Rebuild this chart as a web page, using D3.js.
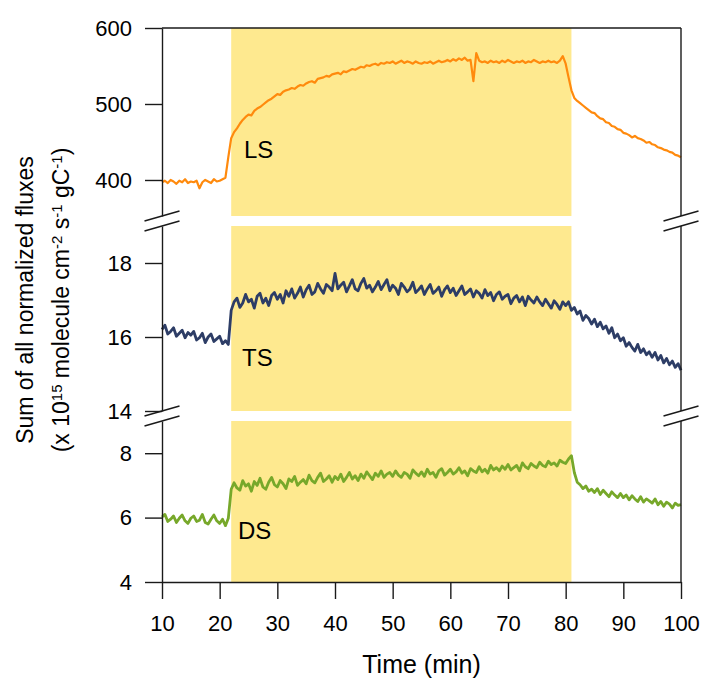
<!DOCTYPE html>
<html>
<head>
<meta charset="utf-8">
<script src="https://cdn.jsdelivr.net/npm/d3@7"></script>
<style>
  body { margin: 0; background: #fff; }
  text { font-family: "Liberation Sans", Arial, sans-serif; fill: #000; }
  .axis path, .axis line { stroke: #1a1a1a; stroke-width: 1.4; }
  .axis text { font-size: 22px; }
</style>
</head>
<body>
<div id="chart"></div>
<script>
// sample times (min)
const time = [
  10,10.5,11,11.5,12,12.5,13,13.5,14,14.5,
  15,15.5,16,16.5,17,17.5,18,18.5,19,19.5,
  20,20.5,21,21.5,22,22.5,23,23.5,24,24.5,
  25,25.5,26,26.5,27,27.5,28,28.5,29,29.5,
  30,30.5,31,31.5,32,32.5,33,33.5,34,34.5,
  35,35.5,36,36.5,37,37.5,38,38.5,39,39.5,
  40,40.5,41,41.5,42,42.5,43,43.5,44,44.5,
  45,45.5,46,46.5,47,47.5,48,48.5,49,49.5,
  50,50.5,51,51.5,52,52.5,53,53.5,54,54.5,
  55,55.5,56,56.5,57,57.5,58,58.5,59,59.5,
  60,60.5,61,61.5,62,62.5,63,63.5,64,64.5,
  65,65.5,66,66.5,67,67.5,68,68.5,69,69.5,
  70,70.5,71,71.5,72,72.5,73,73.5,74,74.5,
  75,75.5,76,76.5,77,77.5,78,78.5,79,79.5,
  80,80.5,81,81.5,82,82.5,83,83.5,84,84.5,
  85,85.5,86,86.5,87,87.5,88,88.5,89,89.5,
  90,90.5,91,91.5,92,92.5,93,93.5,94,94.5,
  95,95.5,96,96.5,97,97.5,98,98.5,99,99.5,
  100
];

const lsFlux = [
  397,399,396,400,398,395,399,397,401,396,
  398,397,399,389,397,400,398,396,401,398,
  399,401,403,430,455,463,468,474,479,483,
  486,485,491,494,496,499,502,505,507,510,
  513,512,516,518,519,521,520,523,525,524,
  527,529,530,528,533,534,535,537,536,539,
  540,541,539,543,542,544,546,545,547,549,
  548,551,550,552,553,551,554,553,555,554,
  556,553,555,557,554,556,555,553,556,554,
  553,555,554,556,553,555,557,555,556,558,
  556,559,557,560,558,561,557,558,530,567,
  557,555,556,554,557,555,556,554,557,555,
  558,556,554,556,555,557,554,556,555,558,
  556,554,556,555,557,555,556,554,557,563,
  553,535,518,508,504,501,498,495,492,489,
  488,484,481,480,476,475,471,470,467,466,
  462,461,459,456,458,455,454,452,449,450,
  447,446,443,442,440,439,437,436,433,432,
  430
];

const tsFlux = [
  16.20,16.32,16.08,16.15,16.25,16.02,16.10,16.18,15.98,16.12,
  16.05,16.15,15.92,15.98,16.10,15.85,16.00,16.08,15.88,15.95,
  16.02,15.82,15.90,15.80,16.72,16.95,17.05,16.80,16.92,17.15,
  16.95,17.02,16.78,17.10,17.18,16.92,17.05,16.85,17.12,17.20,
  17.02,17.15,16.92,17.25,17.10,17.30,17.05,17.18,17.35,17.08,
  17.28,17.40,17.15,17.22,17.45,17.30,17.18,17.42,17.35,17.25,
  17.72,17.30,17.40,17.48,17.22,17.38,17.55,17.30,17.25,17.45,
  17.58,17.32,17.40,17.22,17.35,17.50,17.28,17.42,17.55,17.25,
  17.40,17.32,17.15,17.45,17.35,17.22,17.30,17.48,17.20,17.28,
  17.38,17.15,17.30,17.42,17.18,17.25,17.35,17.10,17.28,17.38,
  17.20,17.32,17.12,17.25,17.38,17.15,17.22,17.30,17.08,17.25,
  17.18,17.05,17.28,17.12,17.20,16.98,17.15,17.22,17.02,17.10,
  17.15,16.90,17.05,17.12,16.95,17.08,16.85,17.10,17.00,16.92,
  17.08,16.95,16.85,17.02,16.90,16.78,16.98,16.88,16.75,16.95,
  16.85,16.95,16.72,16.80,16.62,16.70,16.45,16.58,16.50,16.35,
  16.48,16.28,16.40,16.22,16.30,16.10,16.25,15.98,16.08,15.90,
  15.98,15.75,15.85,15.72,15.62,15.80,15.58,15.68,15.52,15.60,
  15.45,15.58,15.38,15.50,15.30,15.42,15.25,15.35,15.18,15.28,
  15.10
];

const dsFlux = [
  6.02,6.10,5.88,5.95,6.05,5.85,5.98,6.08,5.90,5.82,
  5.98,6.05,5.88,5.92,6.10,5.85,5.80,5.95,6.08,5.90,
  5.82,5.95,5.75,5.98,6.88,7.08,6.92,6.85,7.15,6.98,
  7.05,6.82,7.12,7.00,7.22,6.95,6.88,7.10,7.25,7.02,
  6.95,7.15,7.05,6.90,7.20,7.12,7.28,7.00,7.10,7.18,
  7.05,7.32,7.15,7.08,7.25,7.38,7.12,7.20,7.30,7.10,
  7.28,7.18,7.35,7.12,7.25,7.40,7.20,7.30,7.15,7.35,
  7.22,7.42,7.30,7.18,7.38,7.28,7.45,7.25,7.35,7.40,
  7.28,7.45,7.32,7.25,7.40,7.35,7.22,7.48,7.38,7.30,
  7.42,7.28,7.50,7.35,7.40,7.25,7.45,7.52,7.32,7.40,
  7.50,7.35,7.42,7.55,7.38,7.45,7.30,7.52,7.45,7.40,
  7.58,7.42,7.50,7.38,7.62,7.48,7.55,7.45,7.60,7.50,
  7.65,7.48,7.55,7.62,7.45,7.70,7.58,7.52,7.68,7.60,
  7.55,7.72,7.62,7.58,7.75,7.65,7.70,7.60,7.78,7.72,
  7.68,7.82,7.92,7.40,7.10,7.02,6.90,6.98,6.82,6.88,
  6.78,6.90,6.72,6.85,6.75,6.65,6.80,6.70,6.62,6.75,
  6.62,6.70,6.55,6.68,6.58,6.50,6.65,6.48,6.58,6.52,
  6.45,6.58,6.40,6.50,6.35,6.48,6.42,6.30,6.45,6.38,
  6.40
];

const xTicks = [10, 20, 30, 40, 50, 60, 70, 80, 90, 100];
const lsTicks = [400, 500, 600];
const tsTicks = [14, 16, 18];
const dsTicks = [4, 6, 8];
const exposure = [22, 81]; // shaded period (min)
const panelNames = ["LS", "TS", "DS"];

const width = 704, height = 684;
const left = 162, right = 681;

// panel layout: pixel top/bottom + value domain
const panels = [
  {name: panelNames[0], values: lsFlux, ticks: lsTicks, domain: [352.6, 600], top: 28, bottom: 216, color: "#ff8a0d", sw: 2.2, lx: 244, ly: 158},
  {name: panelNames[1], values: tsFlux, ticks: tsTicks, domain: [14, 19], top: 226, bottom: 411, color: "#2d3d66", sw: 2.8, lx: 242, ly: 366},
  {name: panelNames[2], values: dsFlux, ticks: dsTicks, domain: [4, 9], top: 421, bottom: 582, color: "#77a82a", sw: 2.8, lx: 238, ly: 539}
];

const svg = d3.select("#chart").append("svg")
    .attr("width", width)
    .attr("height", height);

const x = d3.scaleLinear().domain([10, 100]).range([left, right]);

panels.forEach(p => {
    p.y = d3.scaleLinear().domain(p.domain).range([p.bottom, p.top]);

    // shaded exposure window
    svg.append("rect")
        .attr("x", x(exposure[0]))
        .attr("y", p.top)
        .attr("width", x(exposure[1]) - x(exposure[0]))
        .attr("height", p.bottom - p.top)
        .attr("fill", "#fee98f");

    const line = d3.line()
        .x((d, i) => x(time[i]))
        .y(d => p.y(d));

    svg.append("path")
        .datum(p.values)
        .attr("fill", "none")
        .attr("stroke", p.color)
        .attr("stroke-width", p.sw)
        .attr("stroke-linejoin", "round")
        .attr("d", line);

    svg.append("text")
        .attr("x", p.lx)
        .attr("y", p.ly)
        .style("font-size", "24px")
        .text(p.name);

    // left axis
    svg.append("g")
        .attr("class", "axis")
        .attr("transform", "translate(" + left + ",0)")
        .call(d3.axisLeft(p.y).tickValues(p.ticks).tickFormat(d3.format("d"))
            .tickSize(17).tickSizeOuter(0).tickPadding(13));

    // right frame line
    svg.append("line")
        .attr("x1", right).attr("x2", right)
        .attr("y1", p.top).attr("y2", p.bottom)
        .attr("stroke", "#1a1a1a")
        .attr("stroke-width", 1.4);
});

// top frame line
svg.append("line")
    .attr("x1", left).attr("x2", right)
    .attr("y1", 28).attr("y2", 28)
    .attr("stroke", "#1a1a1a")
    .attr("stroke-width", 1.4);

// bottom axis
svg.append("g")
    .attr("class", "axis")
    .attr("transform", "translate(0," + 582 + ")")
    .call(d3.axisBottom(x).tickValues(xTicks).tickSize(17).tickSizeOuter(0).tickPadding(16));

// axis break marks
const breaks = [216, 226, 411, 421];
[left, right].forEach(ax => {
    breaks.forEach(b => {
        svg.append("line")
            .attr("x1", ax - 17.5).attr("y1", b + 5)
            .attr("x2", ax + 17.5).attr("y2", b - 5)
            .attr("stroke", "#1a1a1a")
            .attr("stroke-width", 1.4);
    });
});

// axis titles
svg.append("text")
    .attr("x", (left + right) / 2)
    .attr("y", 673)
    .attr("text-anchor", "middle")
    .style("font-size", "25px")
    .text("Time (min)");

const yTitle = svg.append("g")
    .attr("transform", "translate(0,300) rotate(-90)");

yTitle.append("text")
    .attr("x", 0)
    .attr("y", 33)
    .attr("text-anchor", "middle")
    .style("font-size", "23px")
    .text("Sum of all normalized fluxes");

const t2 = yTitle.append("text")
    .attr("x", 0)
    .attr("y", 69)
    .attr("text-anchor", "middle")
    .style("font-size", "23px");

const parts = [
    ["(x 10", false], ["15", true], [" molecule cm", false], ["-2", true],
    [" s", false], ["-1", true], [" gC", false], ["-1", true], [")", false]
];
parts.forEach(([s, sup]) => {
    t2.append("tspan")
        .attr("baseline-shift", sup ? "45%" : null)
        .style("font-size", sup ? "15px" : null)
        .text(s);
});
</script>
</body>
</html>
